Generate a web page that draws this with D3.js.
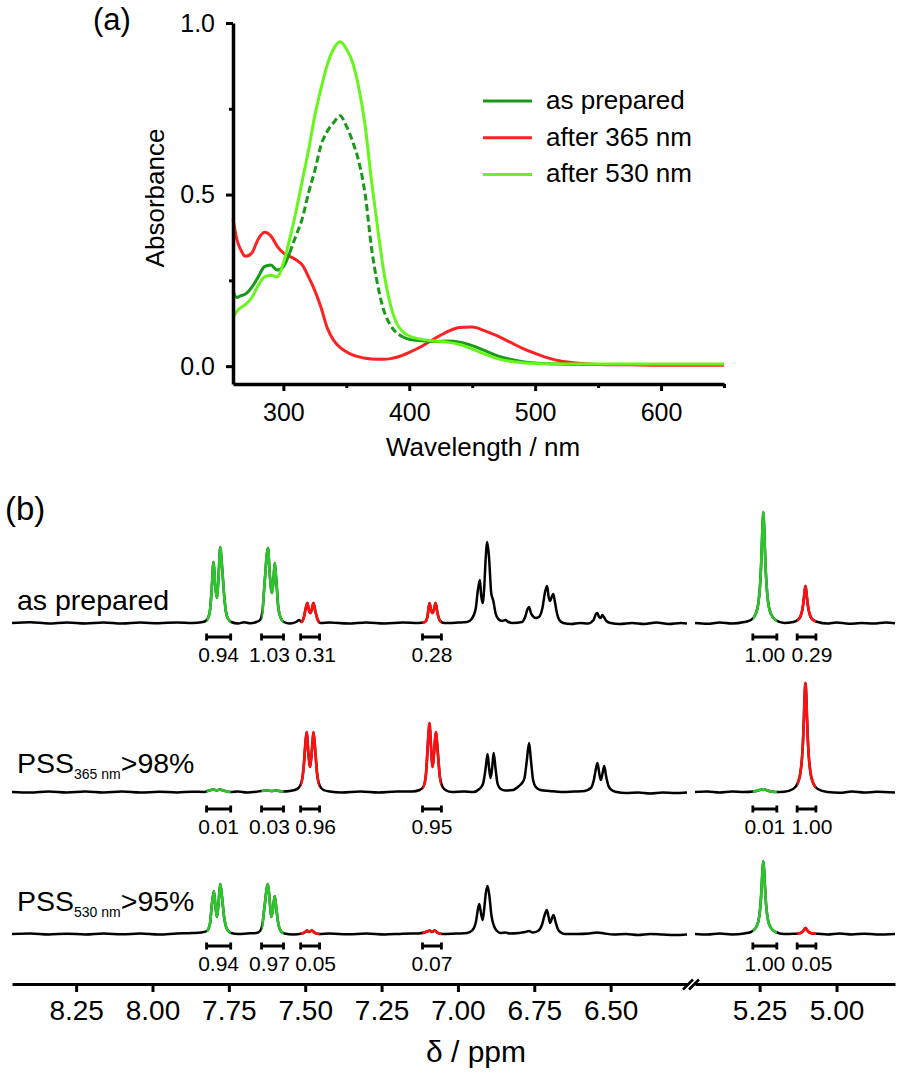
<!DOCTYPE html>
<html><head><meta charset="utf-8">
<script src="https://cdn.jsdelivr.net/npm/d3@7"></script>
<style>
body{margin:0;background:#fff}
svg{display:block;background:#fff}
text{font-family:"Liberation Sans",Arial,Helvetica,sans-serif;fill:#000}
</style>
</head><body>
<svg id="chart" width="901" height="1076"></svg>
<script>
// ---------------- DATA: panel (a) UV-vis ----------------
const wavelength = [260,263,266,270,275,280,285,290,295,300,305,310,315,320,325,330,335,340,345,350,355,360,365,370,375,380,385,390,395,400,410,420,430,440,450,460,470,480,490,500,510,520,530,540,550,575,600,625,650];
const absPrepared = [0.22,0.20,0.205,0.21,0.23,0.26,0.29,0.295,0.28,0.29,0.33,0.38,0.43,0.505,0.57,0.645,0.685,0.71,0.73,0.70,0.655,0.595,0.50,0.345,0.235,0.16,0.12,0.097,0.085,0.078,0.074,0.072,0.073,0.070,0.060,0.045,0.030,0.020,0.013,0.009,0.007,0.006,0.005,0.005,0.005,0.005,0.005,0.005,0.005];
const abs365 = [0.43,0.37,0.34,0.32,0.33,0.37,0.39,0.38,0.35,0.33,0.32,0.31,0.295,0.26,0.22,0.17,0.11,0.075,0.055,0.042,0.033,0.027,0.023,0.021,0.020,0.020,0.022,0.026,0.032,0.040,0.058,0.080,0.100,0.113,0.114,0.103,0.088,0.070,0.052,0.037,0.024,0.015,0.010,0.007,0.005,0.004,0.003,0.003,0.003];
const abs530 = [0.14,0.16,0.17,0.18,0.20,0.235,0.26,0.265,0.26,0.30,0.37,0.45,0.54,0.63,0.73,0.81,0.88,0.925,0.945,0.925,0.885,0.81,0.70,0.54,0.40,0.27,0.18,0.125,0.10,0.088,0.078,0.073,0.070,0.063,0.050,0.035,0.022,0.014,0.010,0.008,0.007,0.006,0.006,0.006,0.006,0.006,0.006,0.006,0.006];
const uvSeriesNames = ["as prepared","after 365 nm","after 530 nm"];
const uvXTicks = [300,400,500,600];
const uvXMinorTicks = [350,450,550,650];
const uvYTicks = [0,0.5,1.0];
const uvYMinorTicks = [0.25,0.75];

// ---------------- DATA: panel (b) 1H NMR ----------------
const nmrTicksLeft = [8.25,8.00,7.75,7.50,7.25,7.00,6.75,6.50];
const nmrTicksRight = [5.25,5.00];
const rowLabels = ["as prepared","PSS|365 nm|>98%","PSS|530 nm|>95%"];
const integralRanges = [[7.823,7.744],[7.643,7.571],[7.515,7.453],[7.116,7.054],[5.272,5.194],[5.128,5.067]];
const integralIsomer = ["open","open","closed","closed","open","closed"];
const integralsPrepared = ["0.94","1.03","0.31","0.28","1.00","0.29"];
const integrals365 = ["0.01","0.03","0.96","0.95","0.01","1.00"];
const integrals530 = ["0.94","0.97","0.05","0.07","1.00","0.05"];

// spectra: [ppm, intensity]
const specPreparedL = [[8.46,0],[8.40,0.8],[8.34,-0.5],[8.28,0.6],[8.22,-0.4],[8.16,0.5],[8.10,-0.6],[8.04,0.4],[7.98,-0.3],[7.92,0.6],[7.87,0],[7.835,1],
[7.822,3],[7.812,12],[7.806,35],[7.800,61],[7.795,38],[7.789,25],[7.784,45],[7.778,76],[7.772,55],[7.766,30],[7.760,12],[7.752,4],[7.742,1],
[7.72,-0.5],[7.70,0.8],[7.68,-0.3],[7.66,1],[7.648,3],[7.640,12],[7.633,40],[7.622,75],[7.616,48],[7.609,30],[7.604,42],[7.600,60],[7.594,40],[7.588,15],[7.580,5],[7.570,1],
[7.55,-0.5],[7.53,1],[7.52,3],[7.512,1],[7.505,5],[7.498,15],[7.493,20],[7.488,13],[7.483,10],[7.478,14],[7.473,20],[7.467,12],[7.460,4],[7.450,0],
[7.42,0.5],[7.36,-0.5],[7.30,0.6],[7.24,-0.4],[7.18,0.5],[7.13,0],[7.108,1],[7.100,6],[7.093,20],[7.088,13],[7.083,10],[7.078,14],[7.073,20],[7.067,10],[7.058,2],[7.045,0],
[7.00,0.5],[6.97,1],[6.955,4],[6.942,14],[6.935,32],[6.928,43],[6.924,28],[6.919,20],[6.914,35],[6.909,65],[6.904,81],[6.898,65],[6.891,30],[6.884,22],[6.877,10],[6.868,4],[6.855,2],[6.845,3],[6.835,1],[6.82,0],
[6.79,1],[6.780,6],[6.772,14],[6.767,16],[6.761,10],[6.752,6],[6.745,5],[6.735,6],[6.724,14],[6.714,32],[6.708,37],[6.703,26],[6.698,22],[6.693,26],[6.688,29],[6.683,22],[6.676,10],[6.668,3],[6.655,0],
[6.63,-1],[6.60,0],[6.575,-0.5],[6.556,3],[6.548,9],[6.543,10],[6.538,6],[6.533,5],[6.527,8],[6.522,6],[6.514,2],[6.50,0],
[6.47,-1],[6.43,0],[6.39,-1],[6.35,0.5],[6.31,-1],[6.27,0],[6.25,-0.5]];
const specPreparedR = [[5.46,0],[5.42,-0.8],[5.38,0.5],[5.34,-0.5],[5.30,1],[5.278,3],[5.263,9],[5.254,20],[5.249,36],[5.2455,55],[5.243,75],[5.241,94],[5.238,111],[5.235,94],[5.233,75],[5.2305,55],[5.227,36],[5.222,20],[5.213,9],[5.198,3],[5.17,0],
[5.141,1],[5.126,3],[5.117,6.7],[5.112,12],[5.1085,18.5],[5.106,25],[5.104,31],[5.101,37],[5.098,31],[5.096,25],[5.0935,18.5],[5.090,12],[5.085,6.7],[5.076,3],[5.061,1],
[5.03,-0.5],[5.00,0.6],[4.96,-0.8],[4.92,0],[4.88,-0.6],[4.84,0.5],[4.81,-0.3]];
const spec365L = [[8.46,0],[8.40,-0.5],[8.34,0.6],[8.28,-0.4],[8.22,0.5],[8.16,-0.5],[8.10,0.4],[8.04,-0.6],[7.98,0.3],[7.92,-0.5],[7.87,0.3],[7.83,0],
[7.815,1.5],[7.80,2.5],[7.79,1.5],[7.78,2.5],[7.765,1.2],[7.745,0],
[7.72,0.5],[7.69,-0.5],[7.66,0.3],[7.645,1],[7.625,1.5],[7.61,1],[7.595,1.5],[7.575,0.5],
[7.55,1],[7.535,2],[7.522,4],[7.512,10],[7.505,25],[7.499,50],[7.495,60],[7.490,40],[7.484,25],[7.478,42],[7.473,60],[7.468,45],[7.461,18],[7.452,6],[7.44,2],[7.42,0.5],
[7.38,-0.5],[7.32,0.5],[7.26,-0.5],[7.20,0.5],[7.15,0.5],[7.125,2],[7.112,6],[7.104,20],[7.098,50],[7.093,69],[7.088,45],[7.083,25],[7.078,40],[7.072,60],[7.066,40],[7.059,15],[7.050,5],[7.038,1.5],[7.02,0],
[6.98,0.5],[6.95,0],[6.93,3],[6.918,8],[6.910,22],[6.903,38],[6.898,24],[6.893,14],[6.888,24],[6.883,39],[6.877,24],[6.870,8],[6.860,3],[6.845,1.5],[6.82,2],
[6.80,6],[6.79,9],[6.782,14],[6.775,30],[6.767,49],[6.761,32],[6.754,12],[6.745,5],[6.73,2],[6.70,1],[6.66,0],[6.62,0.5],[6.585,1],
[6.565,4],[6.555,12],[6.549,22],[6.543,29],[6.537,18],[6.532,12],[6.527,18],[6.521,26],[6.515,16],[6.507,6],[6.497,2],[6.48,0],
[6.45,-1],[6.41,-0.5],[6.37,-1.5],[6.33,-0.5],[6.29,-1],[6.25,-0.5]];
const spec365R = [[5.46,0],[5.42,0.5],[5.38,-0.5],[5.34,0.5],[5.30,0],[5.27,0.5],[5.25,2],[5.243,2.5],[5.238,2],[5.233,2.5],[5.225,1.5],[5.20,0],[5.17,0.3],
[5.141,3],[5.126,9],[5.117,20],[5.112,35],[5.1085,54],[5.106,74],[5.104,93],[5.101,109],[5.098,93],[5.096,74],[5.0935,54],[5.090,35],[5.085,20],[5.076,9],[5.061,3],
[5.03,0],[4.99,-0.8],[4.95,0.4],[4.91,-0.6],[4.87,0.2],[4.81,-0.5]];
const spec530L = [[8.46,0],[8.40,0.5],[8.34,-0.5],[8.28,0.3],[8.22,-0.5],[8.16,0.5],[8.10,-0.3],[8.04,0.5],[7.98,-0.5],[7.92,0.5],[7.87,1],[7.84,1.5],
[7.822,3],[7.812,10],[7.806,28],[7.799,43],[7.794,28],[7.789,17],[7.784,30],[7.778,50],[7.772,36],[7.766,18],[7.760,8],[7.752,3],[7.742,1],
[7.72,0],[7.69,0.5],[7.66,1],[7.648,3],[7.640,10],[7.633,28],[7.622,50],[7.616,32],[7.611,17],[7.605,26],[7.600,38],[7.594,24],[7.588,10],[7.580,3],[7.568,0.5],
[7.54,-0.5],[7.51,0.5],[7.50,2],[7.494,3.5],[7.488,2],[7.478,3.5],[7.47,1.5],[7.455,0],
[7.42,0.5],[7.36,-0.3],[7.30,0.5],[7.24,-0.5],[7.18,0.3],[7.13,0.5],[7.10,2.5],[7.093,3.5],[7.085,2],[7.076,3.5],[7.065,1],[7.05,0],
[7.00,0.5],[6.97,1],[6.952,4],[6.94,14],[6.935,24],[6.930,30],[6.924,20],[6.919,14],[6.914,25],[6.909,40],[6.903,48],[6.897,38],[6.890,18],[6.882,8],[6.872,3],[6.86,1],[6.845,1.5],[6.83,0.5],
[6.80,1],[6.78,2],[6.768,3],[6.755,1.5],[6.738,3],[6.725,9],[6.716,19],[6.709,24],[6.703,17],[6.698,11],[6.693,15],[6.687,19],[6.681,13],[6.673,5],[6.663,1.5],[6.65,0],
[6.61,0],[6.57,0.5],[6.545,1.5],[6.52,0.5],[6.49,-0.5],[6.45,0],[6.41,-1],[6.37,0],[6.33,-0.5],[6.29,-1],[6.25,-0.5]];
const spec530R = [[5.46,0],[5.42,-0.5],[5.38,0.5],[5.34,-0.4],[5.30,0.5],[5.278,2],[5.263,6],[5.254,13],[5.249,23],[5.2455,36],[5.243,50],[5.241,62],[5.238,73],[5.235,62],[5.233,50],[5.2305,36],[5.227,23],[5.222,13],[5.213,6],[5.198,2],[5.17,0],
[5.141,0.2],[5.126,0.5],[5.117,1],[5.112,2],[5.1085,3],[5.106,4],[5.104,5],[5.101,6],[5.098,5],[5.096,4],[5.0935,3],[5.090,2],[5.085,1],[5.076,0.5],[5.061,0.2],
[5.03,-0.5],[4.99,0.5],[4.95,-0.5],[4.91,0.3],[4.87,-0.5],[4.81,0]];

// ---------------- DRAWING ----------------
const svg = d3.select("#chart");
const FONT = '"Liberation Sans",Arial,Helvetica,sans-serif';
const colPrepared = "#189a18", col365 = "#ff2222", col530 = "#66f51c";
const nmrGreen = "#2cc52c", nmrRed = "#ff1010";

// ===== Panel (a) =====
const xA = d3.scaleLinear().domain([260,650]).range([233,724]);
const yA = d3.scaleLinear().domain([-0.052,1.0]).range([384,23]);
const gA = svg.append("g");

const uv = wavelength.map((w,i)=>({w, p:absPrepared[i], r:abs365[i], g:abs530[i]}));
const lineOf = key => d3.line().x(d=>xA(d.w)).y(d=>yA(d[key])).curve(d3.curveMonotoneX);

gA.append("path").datum(uv).attr("d", lineOf("r")).attr("fill","none").attr("stroke",col365).attr("stroke-width",3);
const dashFrom = 308, dashTo = 395;
gA.append("path").datum(uv.filter(d=>d.w<=dashFrom)).attr("d", lineOf("p")).attr("fill","none").attr("stroke",colPrepared).attr("stroke-width",3);
gA.append("path").datum(uv.filter(d=>d.w>=305 && d.w<=dashTo)).attr("d", lineOf("p")).attr("fill","none").attr("stroke",colPrepared).attr("stroke-width",3).attr("stroke-dasharray","7,3.5");
gA.append("path").datum(uv.filter(d=>d.w>=dashTo)).attr("d", lineOf("p")).attr("fill","none").attr("stroke",colPrepared).attr("stroke-width",3);
gA.append("path").datum(uv).attr("d", lineOf("g")).attr("fill","none").attr("stroke",col530).attr("stroke-width",3);

// axes
function styleAxis(g, fs){
  g.selectAll("path.domain").attr("stroke","#000").attr("stroke-width",3.5);
  g.selectAll(".tick line").attr("stroke","#000").attr("stroke-width",3);
  g.selectAll(".tick text").attr("font-family",FONT).attr("font-size",fs).attr("fill","#000");
}
const axYA = gA.append("g").attr("transform","translate(233,0)")
  .call(d3.axisLeft(yA).tickValues(uvYTicks).tickFormat(d3.format(".1f")).tickSize(7).tickSizeOuter(0).tickPadding(11));
styleAxis(axYA, 25);
const axYAm = gA.append("g").attr("transform","translate(233,0)")
  .call(d3.axisLeft(yA).tickValues(uvYMinorTicks).tickFormat("").tickSize(4).tickSizeOuter(0));
axYAm.select("path.domain").remove(); styleAxis(axYAm, 25);
const axXA = gA.append("g").attr("transform","translate(0,384)")
  .call(d3.axisBottom(xA).tickValues(uvXTicks).tickFormat(d3.format("d")).tickSize(7).tickSizeOuter(0).tickPadding(12));
styleAxis(axXA, 25);
const axXAm = gA.append("g").attr("transform","translate(0,384)")
  .call(d3.axisBottom(xA).tickValues(uvXMinorTicks).tickFormat("").tickSize(4).tickSizeOuter(0));
axXAm.select("path.domain").remove(); styleAxis(axXAm, 25);

gA.append("text").attr("x",483).attr("y",456).attr("text-anchor","middle").attr("font-size",26).text("Wavelength / nm");
gA.append("text").attr("transform","translate(164,198) rotate(-90)").attr("text-anchor","middle").attr("font-size",26).text("Absorbance");
gA.append("text").attr("x",93).attr("y",30).attr("font-size",31).text("(a)");

// legend
const legCols = [colPrepared, col365, col530];
const leg = gA.append("g").selectAll("g").data(uvSeriesNames).join("g")
  .attr("transform",(d,i)=>`translate(0,${101 + i*36.7})`);
leg.append("line").attr("x1",483).attr("x2",532).attr("y1",0).attr("y2",0)
  .attr("stroke",(d,i)=>legCols[i]).attr("stroke-width",3);
leg.append("text").attr("x",546).attr("y",8).attr("font-size",26).text(d=>d);

// ===== Panel (b) =====
const xL = d3.scaleLinear().domain([8.46,6.25]).range([12,687]);
const xR = d3.scaleLinear().domain([5.46,4.81]).range([695,895]);
const xOf = p => p > 6 ? xL(p) : xR(p);
const gB = svg.append("g");

gB.append("text").attr("x",5).attr("y",520).attr("font-size",33).text("(b)");

// clip paths for coloured regions
const defs = svg.append("defs");
integralRanges.forEach((r,i)=>{
  const a = xOf(r[0]), b = xOf(r[1]);
  defs.append("clipPath").attr("id","clipR"+i).append("rect")
    .attr("x",Math.min(a,b)).attr("y",470).attr("width",Math.abs(b-a)).attr("height",500);
});

const labelShift = [0,-3,5.5,0,0,5.5]; // horizontal nudge of integral labels (layout)
const rows = [
  {label:rowLabels[0], L:specPreparedL, R:specPreparedR, ints:integralsPrepared, base:623, intY:637, labY:610},
  {label:rowLabels[1], L:spec365L, R:spec365R, ints:integrals365, base:792, intY:809, labY:773},
  {label:rowLabels[2], L:spec530L, R:spec530R, ints:integrals530, base:934, intY:946, labY:911}
];

rows.forEach(row=>{
  const g = gB.append("g");
  const y = h => row.base - h;
  const lineL = d3.line().x(d=>xL(d[0])).y(d=>y(d[1])).curve(d3.curveMonotoneX);
  const lineR = d3.line().x(d=>xR(d[0])).y(d=>y(d[1])).curve(d3.curveMonotoneX);
  [[row.L,lineL],[row.R,lineR]].forEach(([data,ln])=>{
    g.append("path").datum(data).attr("d",ln).attr("fill","none").attr("stroke","#000").attr("stroke-width",2.5).attr("stroke-linejoin","round");
  });
  integralRanges.forEach((r,i)=>{
    const isLeft = r[0] > 6;
    g.append("path").datum(isLeft ? row.L : row.R).attr("d", isLeft ? lineL : lineR)
      .attr("fill","none").attr("stroke", integralIsomer[i]==="open" ? nmrGreen : nmrRed)
      .attr("stroke-width",2.7).attr("stroke-linejoin","round").attr("clip-path",`url(#clipR${i})`);
  });
  // integrals
  integralRanges.forEach((r,i)=>{
    const a = xOf(r[0]), b = xOf(r[1]);
    g.append("path").attr("d",`M${a},${row.intY}H${b}M${a},${row.intY-3.5}V${row.intY+3.5}M${b},${row.intY-3.5}V${row.intY+3.5}`)
      .attr("stroke","#000").attr("stroke-width",2.8).attr("fill","none");
    g.append("text").attr("x",(a+b)/2 + labelShift[i]).attr("y",row.intY+25).attr("text-anchor","middle").attr("font-size",21).text(row.ints[i]);
  });
  // row label
  const parts = row.label.split("|");
  const t = g.append("text").attr("x",17).attr("y",row.labY).attr("font-size",28.5);
  if(parts.length===1){ t.text(parts[0]); }
  else{
    t.append("tspan").text(parts[0]);
    t.append("tspan").attr("font-size",14).attr("dy",6).text(parts[1]);
    t.append("tspan").attr("font-size",28.5).attr("dy",-6).text(parts[2]);
  }
});

// NMR axis
const axB1 = gB.append("g").attr("transform","translate(0,984)")
  .call(d3.axisBottom(xL).tickValues(nmrTicksLeft).tickFormat(d3.format(".2f")).tickSize(8).tickSizeOuter(0).tickPadding(8));
styleAxis(axB1, 28);
axB1.select("path.domain").attr("stroke-width",3);
const axB2 = gB.append("g").attr("transform","translate(0,984)")
  .call(d3.axisBottom(xR).tickValues(nmrTicksRight).tickFormat(d3.format(".2f")).tickSize(8).tickSizeOuter(0).tickPadding(8));
styleAxis(axB2, 28);
axB2.select("path.domain").attr("stroke-width",3);
// axis break mark
gB.append("path").attr("d","M683,989.5L693,979.5M689,989.5L699,979.5").attr("stroke","#000").attr("stroke-width",2.5);
gB.append("text").attr("x",476).attr("y",1062).attr("text-anchor","middle").attr("font-size",30).text("δ / ppm");
</script>
</body></html>
